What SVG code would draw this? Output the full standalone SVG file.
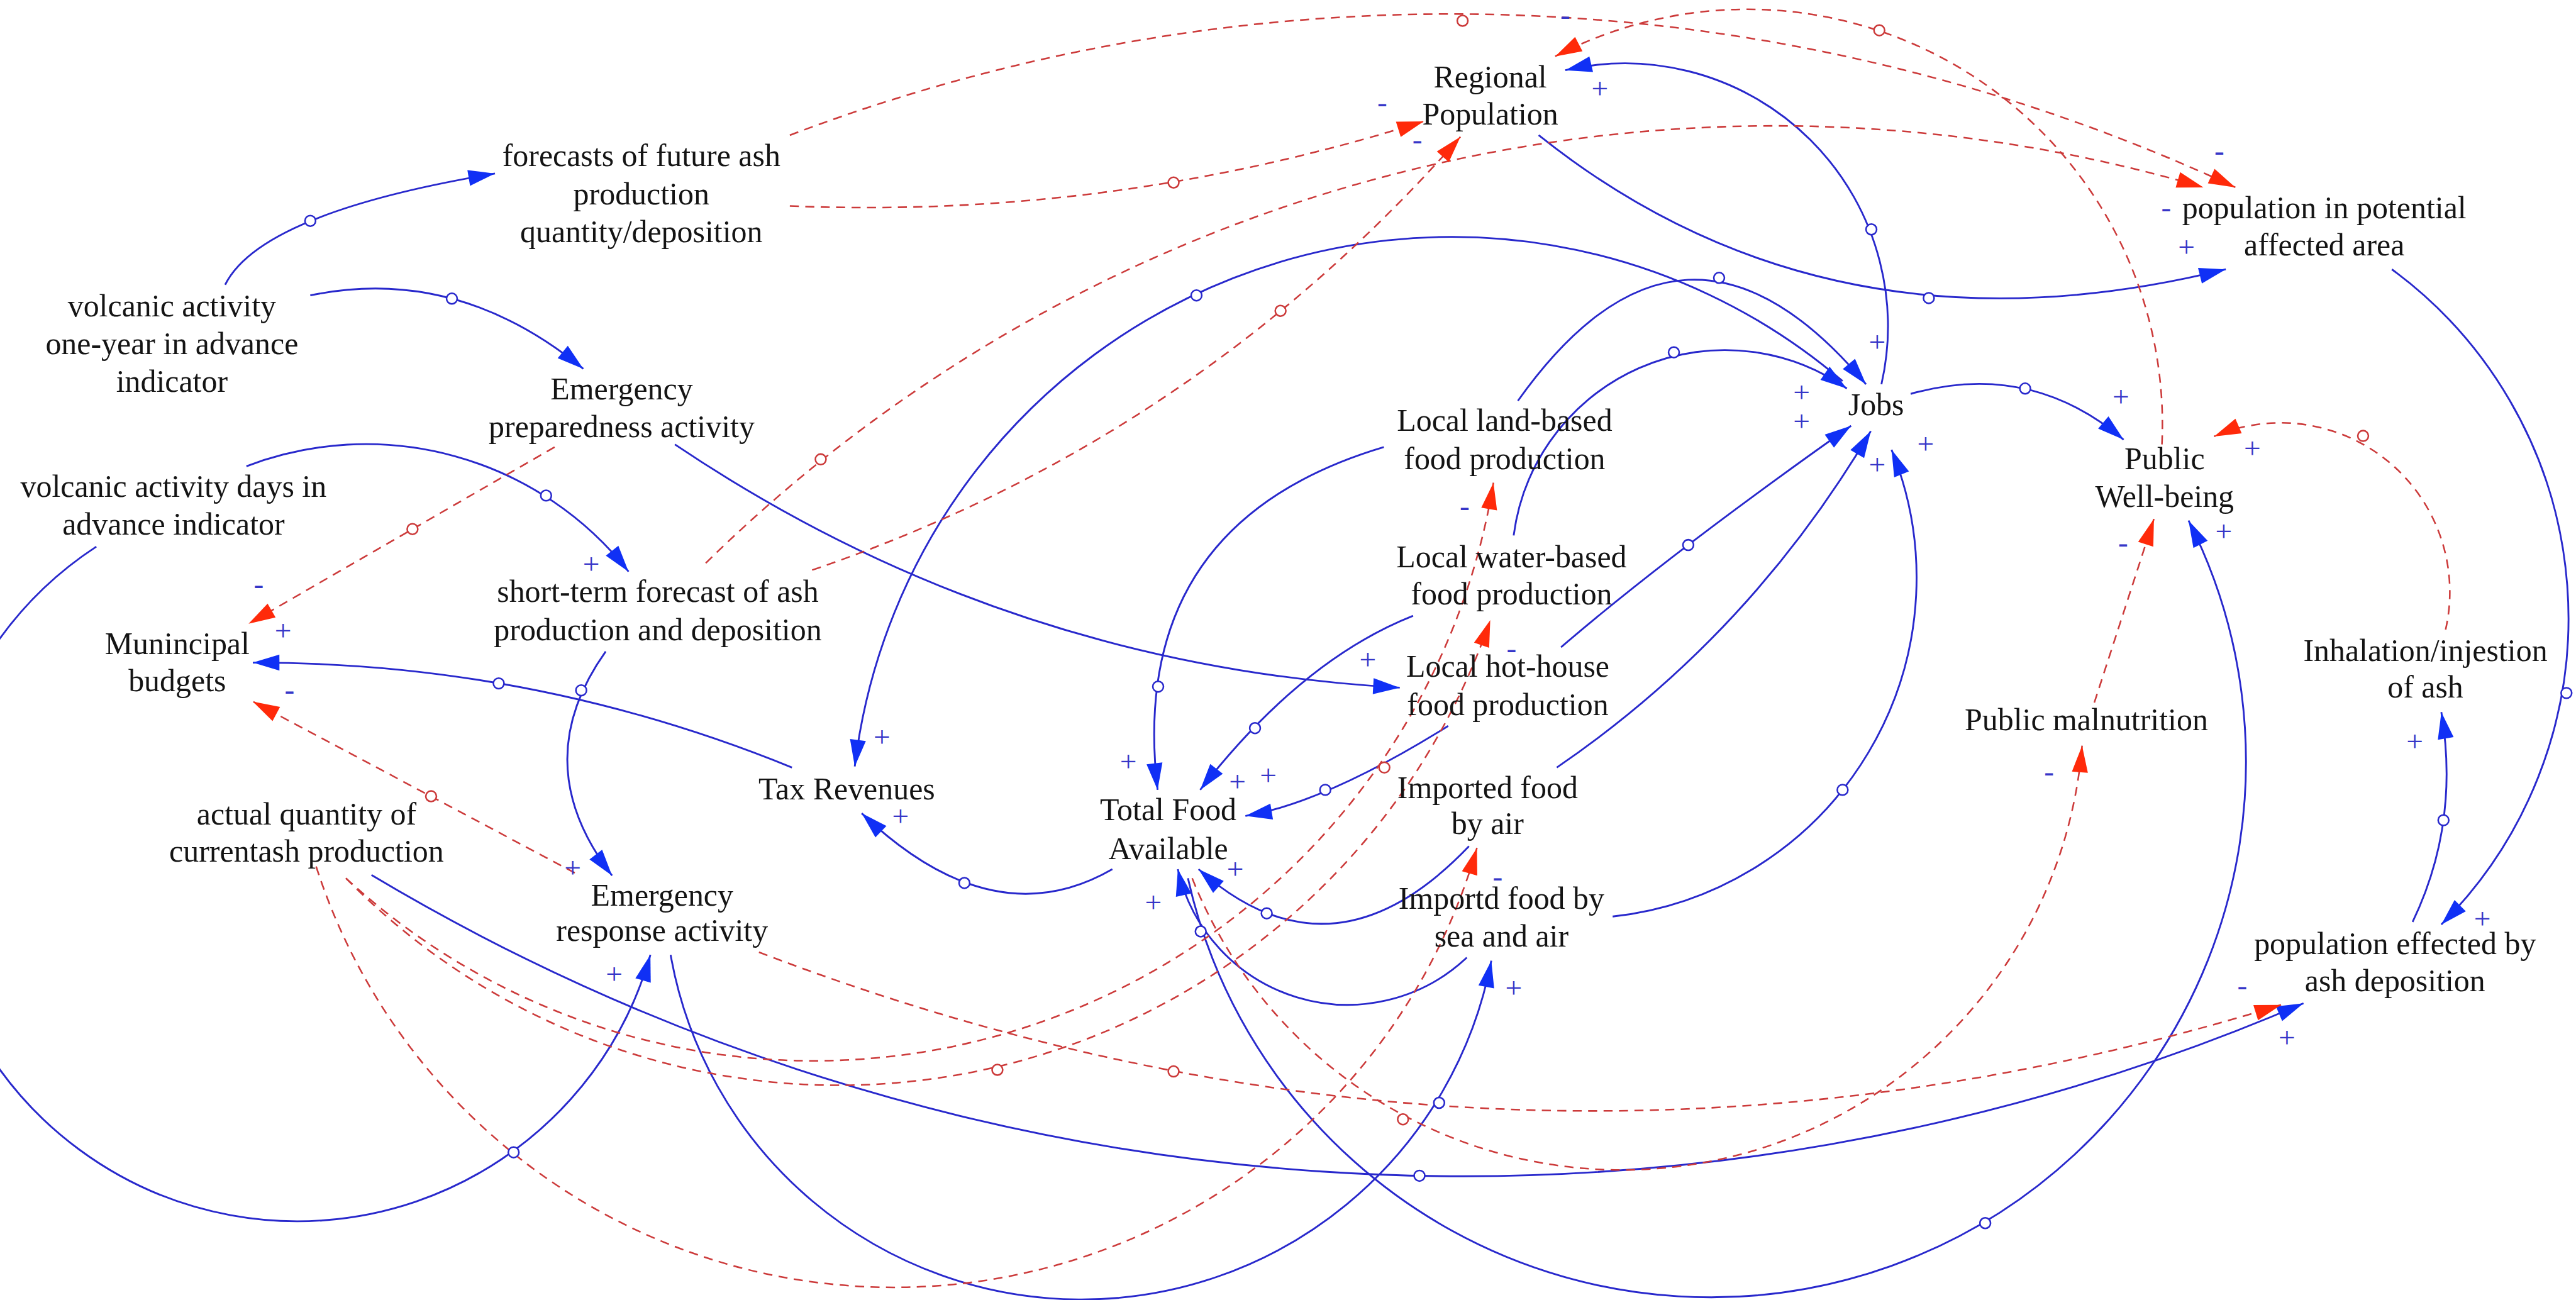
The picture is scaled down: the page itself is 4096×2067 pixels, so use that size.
<svg xmlns="http://www.w3.org/2000/svg" width="4096" height="2067" viewBox="0 0 4096 2067">
<defs>
<style>
.t{font-family:"Liberation Serif","Times New Roman",serif;font-size:59px;fill:#141414;text-anchor:middle}
.p{fill:none;stroke:#2828cc;stroke-width:3.4}
.n{fill:none;stroke:#cc3a3a;stroke-width:3;stroke-dasharray:17 12}
.pe{marker-end:url(#ab)}
.ne{marker-end:url(#ar)}
.hp{fill:#fff;stroke:#2828cc;stroke-width:3}
.hn{fill:#fff;stroke:#cc3a3a;stroke-width:3}
.s{font-family:"Liberation Serif","Times New Roman",serif;font-size:56px;fill:#3636c8;text-anchor:middle}
</style>
<marker id="ab" viewBox="-52 -17 54 34" refX="0" refY="0" markerWidth="54" markerHeight="34" markerUnits="userSpaceOnUse" orient="auto"><path d="M0,0 L-50,-15 L-50,15 Z" fill="#1030f5"/></marker>
<marker id="ar" viewBox="-52 -17 54 34" refX="0" refY="0" markerWidth="54" markerHeight="34" markerUnits="userSpaceOnUse" orient="auto"><path d="M0,0 L-50,-15 L-50,15 Z" fill="#ff2a0a"/></marker>
</defs>
<rect width="4096" height="2067" fill="#fff"/>
<g transform="scale(0.846281)">

<g id="connectors">
<!-- positive links -->
<path class="p pe" d="M423,535 Q490,400 930,326"/>
<path class="p pe" d="M583,555 Q858,498 1096,693"/>
<path class="p pe" d="M463,876 A628,628 0 0,1 1181,1074"/>
<path class="p pe" d="M181,1027 A690,690 0 1,0 1222,1794"/>
<path class="p pe" d="M1268,835 Q1885,1250 2630,1292"/>
<path class="p pe" d="M1138,1224 Q988,1435 1150,1645"/>
<path class="p pe" d="M1488,1442 Q1002,1244 475,1245"/>
<path class="p pe" d="M2090,1633 Q1865,1763 1619,1528"/>
<path class="p pe" d="M3462,716 A1130,1130 0 0,0 1606,1440"/>
<path class="p pe" d="M2852,753 Q3164,314 3506,722"/>
<path class="p pe" d="M2844,1006 A400,400 0 0,1 3470,730"/>
<path class="p pe" d="M3535,722 A494,494 0 0,0 2941,132"/>
<path class="p pe" d="M2891,254 Q3437,690 4182,506"/>
<path class="p pe" d="M4494,506 A813,813 0 0,1 4587,1737"/>
<path class="p pe" d="M4533,1732 Q4622,1547 4587,1338"/>
<path class="p pe" d="M3590,740 Q3814,677 3990,826"/>
<path class="p pe" d="M1260,1794 A784,784 0 0,0 2802,1805"/>
<path class="p pe" d="M2600,840 Q2116,984 2175,1484"/>
<path class="p pe" d="M2655,1157 Q2445,1240 2255,1484"/>
<path class="p pe" d="M2721,1364 Q2490,1508 2340,1533"/>
<path class="p pe" d="M2760,1590 Q2504,1858 2252,1633"/>
<path class="p pe" d="M2756,1799 A327,327 0 0,1 2213,1633"/>
<path class="p pe" d="M2232,1650 A1006,1006 0 1,0 4112,978"/>
<path class="p pe" d="M698,1644 A4000,4000 0 0,0 4328,1885"/>
<path class="p pe" d="M2933,1216 Q3138,1040 3478,800"/>
<path class="p pe" d="M2925,1442 Q3288,1194 3515,810"/>
<path class="p pe" d="M3030,1722 A640,640 0 0,0 3554,845"/>

<!-- negative links -->
<path class="n ne" d="M1484,254 A3500,3500 0 0,1 4200,352"/>
<path class="n ne" d="M1484,387 Q2092,412 2675,228"/>
<path class="n ne" d="M4062,835 A780,780 0 0,0 2922,106"/>
<path class="n ne" d="M1326,1058 A2866,2866 0 0,1 4140,352"/>
<path class="n ne" d="M1526,1071 Q2241,828 2744,257"/>
<path class="n ne" d="M1042,840 L467,1172"/>
<path class="n ne" d="M1080,1640 L475,1318"/>
<path class="n ne" d="M1426,1789 Q2844,2331 4286,1888"/>
<path class="n ne" d="M650,1650 A1295,1295 0 0,0 2806,907"/>
<path class="n ne" d="M650,1650 A1295,1295 0 0,0 2800,1165"/>
<path class="n ne" d="M594,1628 A1140,1140 0 0,0 2775,1593"/>
<path class="n ne" d="M2240,1650 A868,868 0 0,0 3912,1401"/>
<path class="n ne" d="M3935,1320 L4047,975"/>
<path class="n ne" d="M4595,1183 A318,318 0 0,0 4160,820"/>

<!-- link handles -->
<g>
<circle class="hp" cx="583" cy="415" r="10"/>
<circle class="hp" cx="849" cy="561" r="10"/>
<circle class="hp" cx="1026" cy="931" r="10"/>
<circle class="hp" cx="965" cy="2165" r="10"/>
<circle class="hp" cx="1092" cy="1297" r="10"/>
<circle class="hp" cx="937" cy="1284" r="10"/>
<circle class="hp" cx="1812" cy="1659" r="10"/>
<circle class="hp" cx="2248" cy="555" r="10"/>
<circle class="hp" cx="3230" cy="522" r="10"/>
<circle class="hp" cx="3145" cy="662" r="10"/>
<circle class="hp" cx="3516" cy="431" r="10"/>
<circle class="hp" cx="3624" cy="560" r="10"/>
<circle class="hp" cx="4822" cy="1302" r="10"/>
<circle class="hp" cx="4591" cy="1541" r="10"/>
<circle class="hp" cx="3805" cy="730" r="10"/>
<circle class="hp" cx="2704" cy="2072" r="10"/>
<circle class="hp" cx="2176" cy="1290" r="10"/>
<circle class="hp" cx="2358" cy="1368" r="10"/>
<circle class="hp" cx="2490" cy="1484" r="10"/>
<circle class="hp" cx="2380" cy="1716" r="10"/>
<circle class="hp" cx="2256" cy="1750" r="10"/>
<circle class="hp" cx="3730" cy="2298" r="10"/>
<circle class="hp" cx="2667" cy="2209" r="10"/>
<circle class="hp" cx="3172" cy="1024" r="10"/>
<circle class="hp" cx="3462" cy="1484" r="10"/>
<circle class="hn" cx="2748" cy="39" r="10"/>
<circle class="hn" cx="2205" cy="343" r="10"/>
<circle class="hn" cx="3531" cy="57" r="10"/>
<circle class="hn" cx="1542" cy="863" r="10"/>
<circle class="hn" cx="2406" cy="584" r="10"/>
<circle class="hn" cx="775" cy="994" r="10"/>
<circle class="hn" cx="810" cy="1496" r="10"/>
<circle class="hn" cx="2205" cy="2013" r="10"/>
<circle class="hn" cx="2601" cy="1442" r="10"/>
<circle class="hn" cx="1874" cy="2010" r="10"/>
<circle class="hn" cx="2636" cy="2103" r="10"/>
<circle class="hn" cx="4440" cy="819" r="10"/>
</g>

<!-- polarity signs -->
<g>
<text class="s" x="3006" y="184">+</text>
<text class="s" x="3527" y="661">+</text>
<text class="s" x="3385" y="755">+</text>
<text class="s" x="3385" y="809">+</text>
<text class="s" x="4108" y="482">+</text>
<text class="s" x="3985" y="763">+</text>
<text class="s" x="1111" y="1078">+</text>
<text class="s" x="532" y="1203">+</text>
<text class="s" x="1657" y="1403">+</text>
<text class="s" x="1692" y="1552">+</text>
<text class="s" x="2120" y="1449">+</text>
<text class="s" x="2325" y="1486">+</text>
<text class="s" x="2383" y="1475">+</text>
<text class="s" x="3618" y="852">+</text>
<text class="s" x="3527" y="891">+</text>
<text class="s" x="2570" y="1257">+</text>
<text class="s" x="4232" y="860">+</text>
<text class="s" x="4178" y="1016">+</text>
<text class="s" x="4537" y="1411">+</text>
<text class="s" x="1154" y="1848">+</text>
<text class="s" x="1076" y="1648">+</text>
<text class="s" x="2167" y="1713">+</text>
<text class="s" x="2321" y="1651">+</text>
<text class="s" x="2844" y="1874">+</text>
<text class="s" x="4664" y="1744">+</text>
<text class="s" x="4297" y="1967">+</text>
<text class="s" x="2941" y="46">-</text>
<text class="s" x="2597" y="210">-</text>
<text class="s" x="2663" y="280">-</text>
<text class="s" x="4170" y="301">-</text>
<text class="s" x="4070" y="408">-</text>
<text class="s" x="486" y="1115">-</text>
<text class="s" x="544" y="1314">-</text>
<text class="s" x="2752" y="969">-</text>
<text class="s" x="2840" y="1236">-</text>
<text class="s" x="3989" y="1037">-</text>
<text class="s" x="3850" y="1468">-</text>
<text class="s" x="4213" y="1869">-</text>
<text class="s" x="2814" y="1665">-</text>
</g>
</g>

<g id="forecasts-future-ash"><text class="t"><tspan x="1205" y="312">forecasts of future ash</tspan><tspan x="1205" y="384">production</tspan><tspan x="1205" y="455">quantity/deposition</tspan></text></g>
<g id="regional-population"><text class="t"><tspan x="2800" y="164">Regional</tspan><tspan x="2800" y="234">Population</tspan></text></g>
<g id="population-potential-area"><text class="t"><tspan x="4367" y="410">population in potential</tspan><tspan x="4367" y="480">affected area</tspan></text></g>
<g id="volcanic-one-year"><text class="t"><tspan x="323" y="594">volcanic activity</tspan><tspan x="323" y="665">one-year in advance</tspan><tspan x="323" y="736">indicator</tspan></text></g>
<g id="emergency-preparedness"><text class="t"><tspan x="1168" y="750">Emergency</tspan><tspan x="1168" y="821">preparedness activity</tspan></text></g>
<g id="volcanic-days"><text class="t"><tspan x="326" y="933">volcanic activity days in</tspan><tspan x="326" y="1004">advance indicator</tspan></text></g>
<g id="municipal-budgets"><text class="t"><tspan x="333" y="1229">Munincipal</tspan><tspan x="333" y="1299">budgets</tspan></text></g>
<g id="short-term-forecast"><text class="t"><tspan x="1236" y="1131">short-term forecast of ash</tspan><tspan x="1236" y="1203">production and deposition</tspan></text></g>
<g id="tax-revenues"><text class="t" x="1591" y="1502">Tax Revenues</text></g>
<g id="total-food"><text class="t"><tspan x="2195" y="1541">Total Food</tspan><tspan x="2195" y="1614">Available</tspan></text></g>
<g id="local-land"><text class="t"><tspan x="2827" y="810">Local land-based</tspan><tspan x="2827" y="881">food production</tspan></text></g>
<g id="local-water"><text class="t"><tspan x="2840" y="1066">Local water-based</tspan><tspan x="2840" y="1136">food production</tspan></text></g>
<g id="local-hothouse"><text class="t"><tspan x="2833" y="1271">Local hot-house</tspan><tspan x="2833" y="1344">food production</tspan></text></g>
<g id="imported-air"><text class="t"><tspan x="2795" y="1499">Imported food</tspan><tspan x="2795" y="1567">by air</tspan></text></g>
<g id="imported-sea-air"><text class="t"><tspan x="2821" y="1708">Importd food by</tspan><tspan x="2821" y="1778">sea and air</tspan></text></g>
<g id="jobs"><text class="t" x="3525" y="780">Jobs</text></g>
<g id="public-wellbeing"><text class="t"><tspan x="4067" y="881">Public</tspan><tspan x="4067" y="952">Well-being</tspan></text></g>
<g id="public-malnutrition"><text class="t" x="3920" y="1372">Public malnutrition</text></g>
<g id="inhalation"><text class="t"><tspan x="4557" y="1242">Inhalation/injestion</tspan><tspan x="4557" y="1310">of ash</tspan></text></g>
<g id="actual-ash"><text class="t"><tspan x="576" y="1549">actual quantity of</tspan><tspan x="576" y="1619">currentash production</tspan></text></g>
<g id="emergency-response"><text class="t"><tspan x="1244" y="1701">Emergency</tspan><tspan x="1244" y="1768">response activity</tspan></text></g>
<g id="population-effected"><text class="t"><tspan x="4500" y="1792">population effected by</tspan><tspan x="4500" y="1862">ash deposition</tspan></text></g>

</g>
</svg>
